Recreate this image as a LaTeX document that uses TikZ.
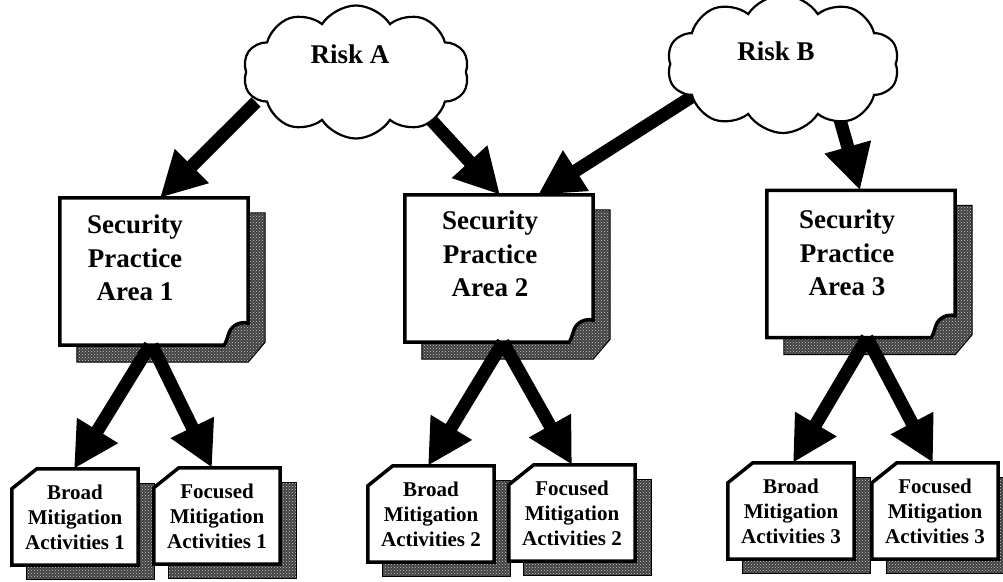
\documentclass[tikz,border=0pt]{standalone}
\usepackage{fontspec}
\setmainfont{Liberation Serif}
\usetikzlibrary{arrows.meta,shapes.symbols,calc,patterns}
\pgfdeclarelayer{background}
\pgfsetlayers{background,main}
\newcommand\bigpage[1]{%
  \draw[shadowfill] ($(#1.north east)+(17,15)$) -- ($(#1.south east)+(17,-3)$) -- ($(#1.south east)+(0,17)$) -- ($(#1.south west)+(17,17)$) -- ($(#1.north west)+(17,15)$) -- cycle;
  \draw[boxborder] (#1.north west) -- (#1.north east) -- ($(#1.south east)+(0,-22)$)
     .. controls ($(#1.south east)+(-8,-24)$) and ($(#1.south east)+(-16,-20)$) .. ($(#1.south east)+(-19,-13)$)
     .. controls ($(#1.south east)+(-21,-7)$) and ($(#1.south east)+(-22,-3)$) .. ($(#1.south east)+(-24,0)$)
     -- (#1.south west) -- cycle;
}
\newcommand\smallpage[1]{%
  \draw[shadowfill] ($(#1.north west)+(15,15)$) rectangle ($(#1.south east)+(16,14)$);
  \draw[boxborder] ($(#1.north west)+(0,20)$) -- ($(#1.north west)+(25,0)$) -- (#1.north east) -- (#1.south east) -- (#1.south west) -- cycle;
}
\begin{document}
\begin{tikzpicture}[x=1pt,y=-1pt,
  boxborder/.style={draw=black,line width=3.5pt,fill=white,line join=miter},
  shadowfill/.style={preaction={fill=black!75},pattern=crosshatch dots,pattern color=white!80!black,draw=black,line width=1pt},
  bigtext/.style={font=\fontsize{27}{33.5}\selectfont\bfseries,align=center,inner sep=0pt},
  smallbox/.style={rectangle,draw=none,inner sep=0pt,minimum width=126pt,minimum height=96pt,font=\fontsize{21}{25}\selectfont\bfseries,align=center},
  bigbox/.style={rectangle,draw=none,inner sep=0pt,minimum width=188pt,minimum height=147pt},
  bigarrow/.style={line width=13pt,-{Triangle[length=45pt,width=45pt]}},
  riskcloud/.style={cloud,cloud puffs=10,cloud puff arc=115,cloud ignores aspect,draw,line width=2.2pt,fill=white,minimum width=226pt,minimum height=133pt,inner sep=0pt},
  risktext/.style={font=\fontsize{27}{32}\selectfont\bfseries,inner sep=0pt},
]
\useasboundingbox (0,0) rectangle (1003,581);

% big boxes
\node[bigbox] (sp1) at (154,271.5) {};
\node[bigbox] (sp2) at (499,268.5) {};
\node[bigbox] (sp3) at (861,264) {};
\node[bigtext] (sp1t) at (135,258) {Security\\Practice\\Area 1};
\node[bigtext] (sp2t) at (490,254) {Security\\Practice\\Area 2};
\node[bigtext] (sp3t) at (847,253) {Security\\Practice\\Area 3};

% small boxes
\node[smallbox] (b1) at (75,517) {Broad\\Mitigation\\Activities 1};
\node[smallbox] (f1) at (217,516) {Focused\\Mitigation\\Activities 1};
\node[smallbox] (b2) at (431,514) {Broad\\Mitigation\\Activities 2};
\node[smallbox] (f2) at (572,513) {Focused\\Mitigation\\Activities 2};
\node[smallbox] (b3) at (791,511) {Broad\\Mitigation\\Activities 3};
\node[smallbox] (f3) at (935,511) {Focused\\Mitigation\\Activities 3};

\begin{pgfonlayer}{background}
  \bigpage{sp1}\bigpage{sp2}\bigpage{sp3}
  \smallpage{b1}\smallpage{f1}\smallpage{b2}\smallpage{f2}\smallpage{b3}\smallpage{f3}
\end{pgfonlayer}

% cloud centres
\coordinate (ca) at (356,72);
\coordinate (cb) at (783,64);

% arrows
\draw[bigarrow] ($(ca)+(-100,30)$) -- ([xshift=6pt]sp1.north);
\draw[bigarrow] ($(ca)+(66,38)$) -- ([xshift=1pt]sp2.north);
\draw[bigarrow] ($(cb)+(-90,32)$) -- ([xshift=39pt]sp2.north);
\draw[bigarrow] ($(cb)+(54,45)$) -- ([xshift=-1pt]sp3.north);
\draw[bigarrow] ([xshift=-4pt]sp1.south) -- ([xshift=-1pt]b1.north);
\draw[bigarrow] ([xshift=-2pt]sp1.south) -- ([xshift=-5pt]f1.north);
\draw[bigarrow] ([xshift=4pt]sp2.south) -- ([xshift=-3pt]b2.north);
\draw[bigarrow] ([xshift=4pt]sp2.south) -- (f2.north);
\draw[bigarrow] ([xshift=6pt]sp3.south) -- ([xshift=2pt]b3.north);
\draw[bigarrow] ([xshift=6pt]sp3.south) -- ([xshift=-2pt]f3.north);

\node[riskcloud] (riskA) at (ca) {};
\node[riskcloud,minimum width=232pt,minimum height=138pt] (riskB) at (cb) {};
\node[risktext] (riskAt) at (350,54) {Risk A};
\node[risktext] (riskBt) at (776,51) {Risk B};
\end{tikzpicture}
\end{document}
